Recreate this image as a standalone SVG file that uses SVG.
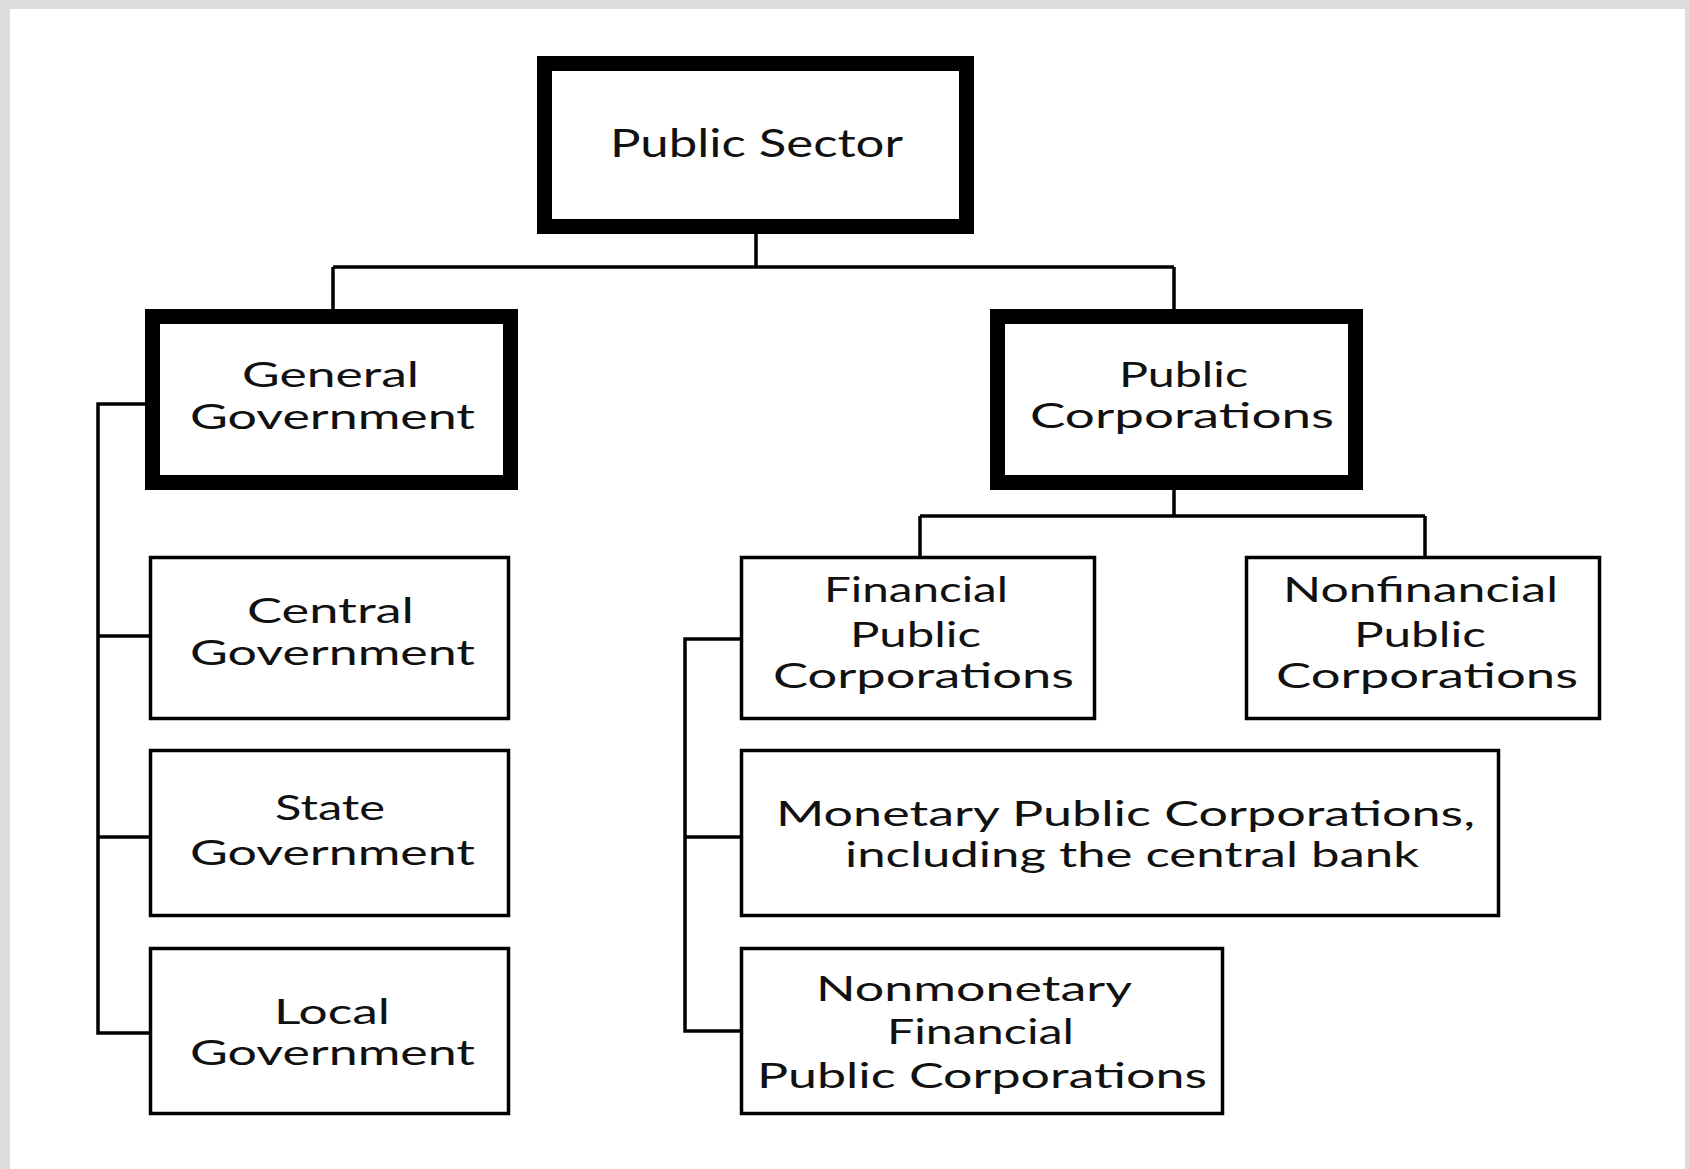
<svg xmlns="http://www.w3.org/2000/svg" width="1689" height="1169" viewBox="0 0 1689 1169">
<style>
.thick{fill:#fff;stroke:#000;stroke-width:15}
.thin{fill:#fff;stroke:#000;stroke-width:3.5}
.conn{fill:none;stroke:#000;stroke-width:3.5}
text{font-family:Lato,"Open Sans","Liberation Sans",sans-serif;font-size:34px;fill:#111}
</style>
<rect x="0" y="0" width="1689" height="1169" fill="#dcdcdc"/>
<rect x="10" y="9" width="1675" height="1160" fill="#fff"/>
<g id="connectors">
<path class="conn" d="M756 234V267M333 267H1174M333 267V309M1174 267V309"/>
<path class="conn" d="M1174 490V516M920 516H1425M920 516V556M1425 516V556"/>
<path class="conn" d="M145 404H98V1033H156M98 636H149M98 837H149"/>
<path class="conn" d="M740 639H685V1031H740M685 837H740"/>
</g>
<g id="public-sector">
<rect class="thick" x="544.5" y="63.5" width="422" height="163"/>
<text x="610" y="157" textLength="293" lengthAdjust="spacingAndGlyphs" style="font-size:38px">Public Sector</text>
</g>
<g id="general-government">
<rect class="thick" x="152.5" y="316.5" width="358" height="166"/>
<text x="242" y="387" textLength="177" lengthAdjust="spacingAndGlyphs">General</text>
<text x="190" y="429" textLength="285" lengthAdjust="spacingAndGlyphs">Government</text>
</g>
<g id="public-corporations">
<rect class="thick" x="997.5" y="316.5" width="358" height="166"/>
<text x="1119" y="387" textLength="129" lengthAdjust="spacingAndGlyphs">Public</text>
<text x="1030" y="428" textLength="304" lengthAdjust="spacingAndGlyphs">Corporations</text>
</g>
<g id="central-government">
<rect class="thin" x="150.5" y="557.5" width="358" height="161"/>
<text x="247" y="623" textLength="167" lengthAdjust="spacingAndGlyphs">Central</text>
<text x="190" y="665" textLength="285" lengthAdjust="spacingAndGlyphs">Government</text>
</g>
<g id="state-government">
<rect class="thin" x="150.5" y="750.5" width="358" height="165"/>
<text x="275" y="820" textLength="110" lengthAdjust="spacingAndGlyphs">State</text>
<text x="190" y="865" textLength="285" lengthAdjust="spacingAndGlyphs">Government</text>
</g>
<g id="local-government">
<rect class="thin" x="150.5" y="948.5" width="358" height="165"/>
<text x="274" y="1024" textLength="116" lengthAdjust="spacingAndGlyphs">Local</text>
<text x="190" y="1065" textLength="285" lengthAdjust="spacingAndGlyphs">Government</text>
</g>
<g id="financial-public-corporations">
<rect class="thin" x="741.5" y="557.5" width="353" height="161"/>
<text x="824" y="602" textLength="184" lengthAdjust="spacingAndGlyphs">Financial</text>
<text x="850" y="647" textLength="131" lengthAdjust="spacingAndGlyphs">Public</text>
<text x="773" y="688" textLength="301" lengthAdjust="spacingAndGlyphs">Corporations</text>
</g>
<g id="nonfinancial-public-corporations">
<rect class="thin" x="1246.5" y="557.5" width="353" height="161"/>
<text x="1283" y="602" textLength="275" lengthAdjust="spacingAndGlyphs">Nonfinancial</text>
<text x="1354" y="647" textLength="132" lengthAdjust="spacingAndGlyphs">Public</text>
<text x="1276" y="688" textLength="302" lengthAdjust="spacingAndGlyphs">Corporations</text>
</g>
<g id="monetary-public-corporations">
<rect class="thin" x="741.5" y="750.5" width="757" height="165"/>
<text x="776" y="826" textLength="699" lengthAdjust="spacingAndGlyphs">Monetary Public Corporations,</text>
<text x="845" y="867" textLength="574" lengthAdjust="spacingAndGlyphs">including the central bank</text>
</g>
<g id="nonmonetary-financial-public-corporations">
<rect class="thin" x="741.5" y="948.5" width="481" height="165"/>
<text x="816" y="1001" textLength="316" lengthAdjust="spacingAndGlyphs">Nonmonetary</text>
<text x="887" y="1044" textLength="187" lengthAdjust="spacingAndGlyphs">Financial</text>
<text x="757" y="1088" textLength="450" lengthAdjust="spacingAndGlyphs">Public Corporations</text>
</g>
</svg>
